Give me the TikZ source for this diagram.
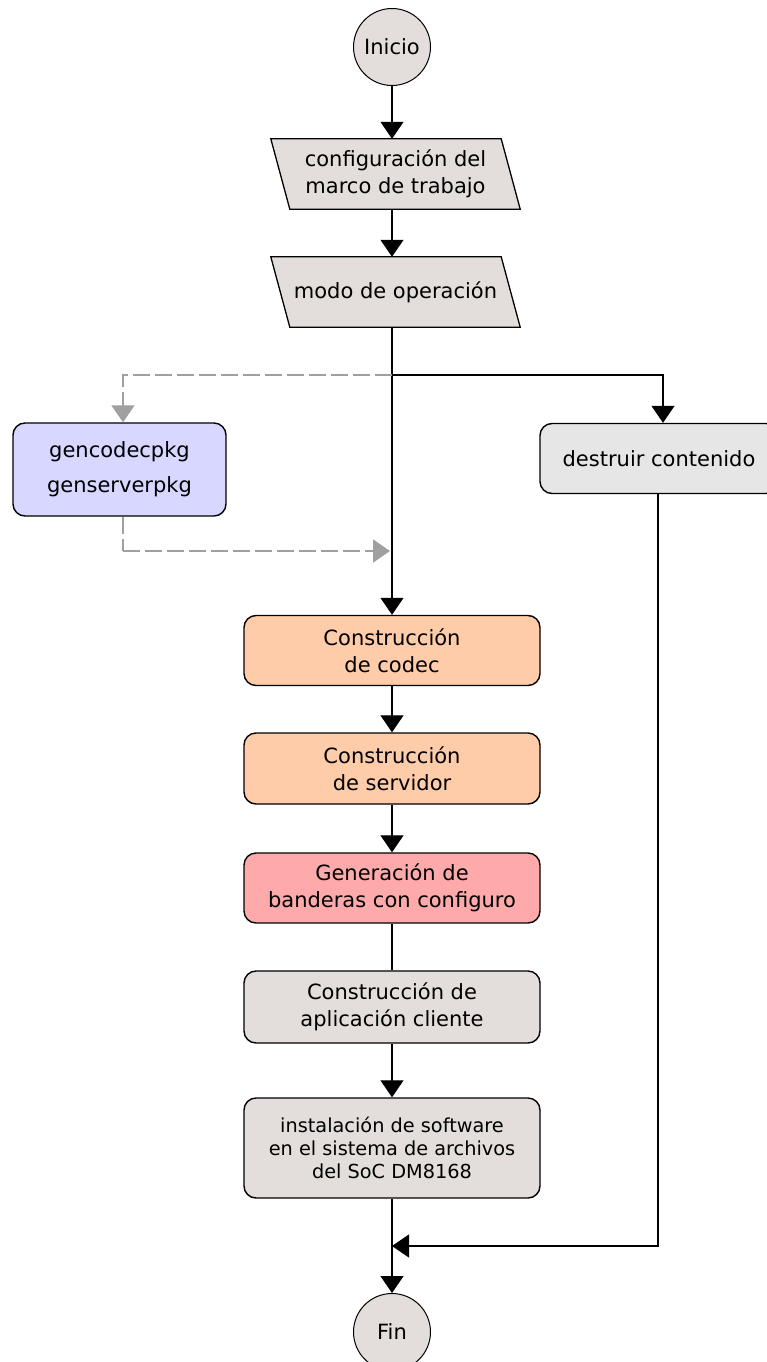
\documentclass[tikz,border=0pt]{standalone}
\usepackage{fontspec}
\setmainfont{DejaVu Sans}
\usetikzlibrary{arrows.meta,calc,backgrounds}
\definecolor{warmgray}{RGB}{227,222,219}
\definecolor{palegray}{RGB}{230,230,230}
\definecolor{peach}{RGB}{255,204,170}
\definecolor{rose}{RGB}{255,170,170}
\definecolor{lavender}{RGB}{215,215,255}
\definecolor{dashgray}{RGB}{160,160,160}
\begin{document}
\begin{tikzpicture}[x=1pt,y=-1pt,
  txt/.style={font=\fontsize{21}{27.5}\selectfont, align=center, inner sep=0pt},
  term/.style={circle, draw, line width=1pt, fill=warmgray, minimum size=77pt, txt},
  proc/.style={rectangle, rounded corners=12pt, draw, line width=1.4pt, minimum width=296pt, txt},
  io/.style={txt, minimum width=230pt, minimum height=70pt},
  slant/.style={draw, fill=warmgray, line width=1.3pt},
  link/.style={line width=1.2pt},
  flow/.style={link, -{Triangle[width=23pt,length=17pt]}},
  alt/.style={dashgray, line width=1.8pt, dash pattern=on 17pt off 5pt,
              -{Triangle[width=23pt,length=17pt]}},
  altline/.style={dashgray, line width=1.8pt, dash pattern=on 17pt off 5pt}
]
\useasboundingbox (0,0) rectangle (767,1362);

% terminals
\node[term] (ini) at (392,47) {Inicio};
\node[term] (fin) at (392,1332) {Fin};

% input / output steps (parallelograms drawn behind the text)
\node[io] (cfg) at (395.5,174) {configuración del\\marco de trabajo};
\node[io] (modo) at (395.5,292) {\raisebox{-3pt}{modo de operación}};
\begin{scope}[on background layer]
  \foreach \n in {cfg,modo}
    \draw[slant] ($(\n.north west)+(-9.5,0)$) -- ($(\n.north east)+(-9.5,0)$)
      -- ($(\n.south east)+(9.5,0)$) -- ($(\n.south west)+(9.5,0)$) -- cycle;
\end{scope}

% side branches
\node[proc, fill=lavender, minimum width=213pt, minimum height=93pt,
      font=\fontsize{21}{35}\selectfont] (pkg) at (119.5,469.5) {gencodecpkg\\genserverpkg};
\node[proc, fill=palegray, minimum width=238pt, minimum height=70pt] (des) at (659,458.5) {\raisebox{-3pt}{destruir contenido}};

% main build sequence
\node[proc, fill=peach, minimum height=70pt] (codec) at (392,650.5) {Construcción\\de codec};
\node[proc, fill=peach, minimum height=71pt] (serv) at (392,768.5) {Construcción\\de servidor};
\node[proc, fill=rose, minimum height=70pt] (flags) at (392,888) {Generación de\\banderas con configuro};
\node[proc, fill=warmgray, minimum height=72pt] (app) at (392,1007) {Construcción de\\aplicación cliente};
\node[proc, fill=warmgray, minimum height=100pt,
      font=\fontsize{19.3}{23}\selectfont] (inst) at (392,1148) {instalación de software\\en el sistema de archivos\\del SoC DM8168};

% junction points
\coordinate (split) at (392,375);
\coordinate (rin) at (663,375);
\coordinate (lin) at (123,375);
\coordinate (lout) at (123,551);
\coordinate (back) at (390,551);
\coordinate (rout) at (658,1246);
\coordinate (merge) at (392,1246);

% connectors
\draw[flow] (ini.south) -- (ini.south |- cfg.north);
\draw[flow] (ini.south |- cfg.south) -- (ini.south |- modo.north);
\draw[flow] (ini.south |- modo.south) -- (codec.north);
\draw[flow] (split) -- (rin) -- (rin |- des.north);
\draw[alt] (split) -- (lin) -- (lin |- pkg.north);
\draw[altline] (lin |- pkg.south) -- (lout);
\draw[alt] (lout) -- (back);
\draw[flow] (codec.south) -- (serv.north);
\draw[flow] (serv.south) -- (flags.north);
\draw[link] (flags.south) -- (app.north);
\draw[flow] (app.south) -- (inst.north);
\draw[flow] (inst.south) -- (fin.north);
\draw[flow] (rout |- des.south) -- (rout) -- (merge);
\end{tikzpicture}
\end{document}
